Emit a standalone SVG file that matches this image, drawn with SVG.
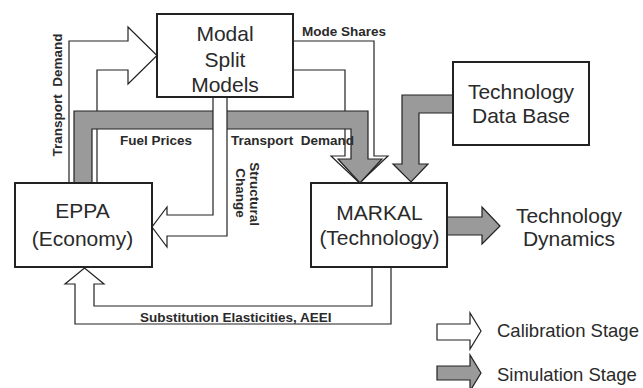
<svg xmlns="http://www.w3.org/2000/svg" width="643" height="388" viewBox="0 0 643 388">
<style>
.box{fill:#fff;stroke:#222;stroke-width:2}
.cal{fill:#fff;stroke:#222;stroke-width:1.2;stroke-linejoin:miter}
.sim{fill:#9a9a9a;stroke:#222;stroke-width:1.2;stroke-linejoin:miter}
.bt{font-family:"Liberation Sans",Arial,sans-serif;font-size:21px;fill:#2a2a2a;text-anchor:middle}
.lbl{font-family:"Liberation Sans",Arial,sans-serif;font-size:13.5px;font-weight:bold;fill:#2a2a2a}
.leg{font-family:"Liberation Sans",Arial,sans-serif;font-size:18.5px;fill:#2a2a2a}
</style>
<rect width="643" height="388" fill="#fff"/>
<g id="connectors">
  <!-- calibration: Transport Demand EPPA -> Modal Split -->
  <polygon class="cal" points="69,183 69,41 128,41 128,27 157,55.5 128,84 128,70 97,70 97,183"/>
  <!-- calibration: Mode Shares Modal Split -> MARKAL -->
  <polygon class="cal" points="293,41 374,41 374,156 388,156 359.5,183 331,156 345,156 345,70 293,70"/>
  <!-- simulation: Fuel Prices / Transport Demand EPPA -> MARKAL -->
  <polygon class="sim" points="74,183 74,111 368,111 368,159 382,159 360,183 338,159 351,159 351,129 92,129 92,183"/>
  <!-- calibration: Structural Change Modal Split -> EPPA -->
  <polygon class="cal" points="213,97 213,215 167,215 167,207 152,227 167,247 167,236 227,236 227,97"/>
  <!-- simulation: Technology Data Base -> MARKAL -->
  <polygon class="sim" points="453,95 402,95 402,164 393,164 411,182 428,164 419,164 419,113 453,113"/>
  <!-- calibration: Substitution Elasticities MARKAL -> EPPA -->
  <polygon class="cal" points="372,267 372,306 94,306 94,284 104,284 84.5,268 65,284 75,284 75,324 391,324 391,267"/>
  <!-- simulation: MARKAL -> Technology Dynamics -->
  <polygon class="sim" points="447,217 482,217 482,207 500,226 482,244 482,235 447,235"/>
  <text class="lbl" transform="translate(61.5,95) rotate(-90)" text-anchor="middle" xml:space="preserve">Transport  Demand</text>
  <text class="lbl" x="302" y="36">Mode Shares</text>
  <text class="lbl" x="120" y="145">Fuel Prices</text>
  <text class="lbl" x="231" y="145" xml:space="preserve">Transport  Demand</text>
  <text class="lbl" transform="translate(250,194) rotate(90)" text-anchor="middle">Structural</text>
  <text class="lbl" transform="translate(236,193) rotate(90)" text-anchor="middle">Change</text>
  <text class="lbl" x="140" y="322">Substitution Elasticities, AEEI</text>
</g>
<g id="modal-split">
  <rect class="box" x="157" y="14" width="136" height="83"/>
  <text class="bt" x="225" y="41">Modal</text>
  <text class="bt" x="225" y="67">Split</text>
  <text class="bt" x="225" y="92">Models</text>
</g>
<g id="tech-db">
  <rect class="box" x="453" y="62" width="136" height="83"/>
  <text class="bt" x="521" y="99">Technology</text>
  <text class="bt" x="521" y="123">Data Base</text>
</g>
<g id="eppa">
  <rect class="box" x="15" y="183" width="137" height="84"/>
  <text class="bt" x="82.5" y="218">EPPA</text>
  <text class="bt" x="82.5" y="246">(Economy)</text>
</g>
<g id="markal">
  <rect class="box" x="311" y="183" width="136" height="84"/>
  <text class="bt" x="379.5" y="220">MARKAL</text>
  <text class="bt" x="379.5" y="245">(Technology)</text>
</g>
<g id="tech-dynamics">
  <text class="bt" x="569" y="223">Technology</text>
  <text class="bt" x="569" y="246">Dynamics</text>
</g>
<g id="legend">
  <polygon class="cal" points="437,324 470,324 470,313 481,331 470,349 470,340 437,340"/>
  <text class="leg" x="497" y="337">Calibration Stage</text>
  <polygon class="sim" points="437,366 470,366 470,355 481,373 470,391 470,380 437,380"/>
  <text class="leg" x="497" y="381">Simulation Stage</text>
</g>
</svg>
